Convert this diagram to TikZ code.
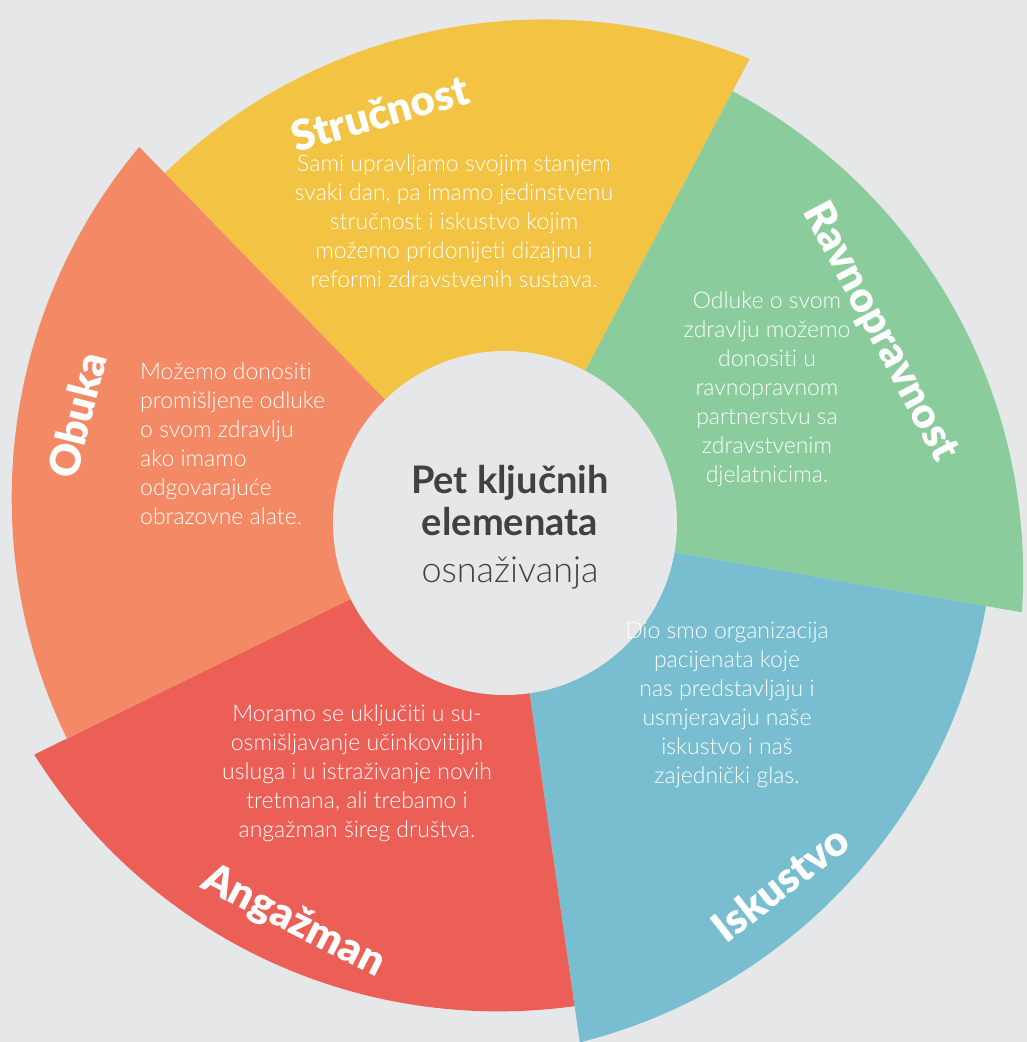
\documentclass[tikz,border=0pt]{standalone}
\usepackage{fontspec}
\setmainfont{Lato}[Ligatures=NoCommon]
\newfontfamily\lightfont{Lato Light}[Ligatures=NoCommon]
\newfontfamily\heavyfont{Lato Black}[Ligatures=NoCommon]
\usepackage{xcolor}
\usepackage{tikz}
\usetikzlibrary{positioning}
\definecolor{bggray}{HTML}{E6E7E8}
\definecolor{darktext}{HTML}{414042}
\definecolor{segyellow}{HTML}{F3C344}
\definecolor{seggreen}{HTML}{8BCC9C}
\definecolor{segblue}{HTML}{78BED0}
\definecolor{segred}{HTML}{EB5F57}
\definecolor{segorange}{HTML}{F48A65}
\tikzstyle{segtitle} = [text=white, inner sep=0pt,
    font=\heavyfont\fontsize{42}{44}\selectfont]
\tikzstyle{segtext} = [text=white, inner sep=0pt, align=center,
    font=\lightfont\fontsize{23}{29}\selectfont]
\tikzstyle{hubtext} = [text=darktext, inner sep=0pt, anchor=base]

\begin{document}
\begin{tikzpicture}[x=1pt,y=1pt]
            \path[use as bounding box] (-505,-519) rectangle (522,523);
            \fill[bggray] (-505,-519) rectangle (522,523);

            % Segments
            \foreach \mid/\col in {98.2/segyellow, 26.2/seggreen, -45.8/segblue,
                                   -117.8/segred, 170.2/segorange} {
                \begin{scope}
                    \clip (0,0) -- ({\mid+36}:800)
                        arc[start angle={\mid+36}, end angle={\mid-36}, radius=800] -- cycle;
                    \fill[\col] ({\mid-146}:60) circle[radius=548];
                \end{scope}
            }

            % Hub
            \node[circle, fill=bggray, minimum size=344pt, inner sep=0pt] (hub) at (0,0) {};
            \node[hubtext, font=\bfseries\fontsize{38}{46}\selectfont] (hub1) at (5,30) {Pet ključnih};
            \node[hubtext, font=\bfseries\fontsize{38}{46}\selectfont] (hub2) at (5,-12) {elemenata};
            \node[hubtext, font=\lightfont\fontsize{36}{46}\selectfont] (hub3) at (5,-59) {osnaživanja};

            % Titles
            \node[segtitle, rotate=16] (strucnost) at (-125,410) {Stručnost};
            \node[segtitle, rotate=-62] (ravnopravnost) at (375,191) {Ravnopravnost};
            \node[segtitle, rotate=38] (iskustvo) at (275,-360) {Iskustvo};
            \node[segtitle, rotate=-27] (angazman) at (-212,-399) {Angažman};
            \node[segtitle, rotate=76] (obuka) at (-428,108) {Obuka};

            % Texts
            \node[segtext] (strucnosttxt) at (-51,302) {Sami upravljamo svojim stanjem\\
                svaki dan, pa imamo jedinstvenu\\stručnost i iskustvo kojim\\
                možemo pridonijeti dizajnu i\\reformi zdravstvenih sustava.};
            \node[segtext] (ravnopravnosttxt) at (262,134) {Odluke o svom\\zdravlju možemo\\
                donositi u\\ravnopravnom\\partnerstvu sa\\zdravstvenim\\djelatnicima.};
            \node[segtext] (iskustvotxt) at (222,-182) {Dio smo organizacija\\pacijenata koje\\
                nas predstavljaju i\\usmjeravaju naše\\iskustvo i naš\\zajednički glas.};
            \node[segtext] (angazmantxt) at (-148,-250) {Moramo se uključiti u su-\\
                osmišljavanje učinkovitijih\\usluga i u istraživanje novih\\
                tretmana, ali trebamo i\\angažman šireg društva.};
            \node[segtext, align=left, anchor=west] (obukatxt) at (-365,79) {Možemo donositi\\
                promišljene odluke\\o svom zdravlju\\ako imamo\\odgovarajuće\\obrazovne alate.};
        \end{tikzpicture}
\end{document}
